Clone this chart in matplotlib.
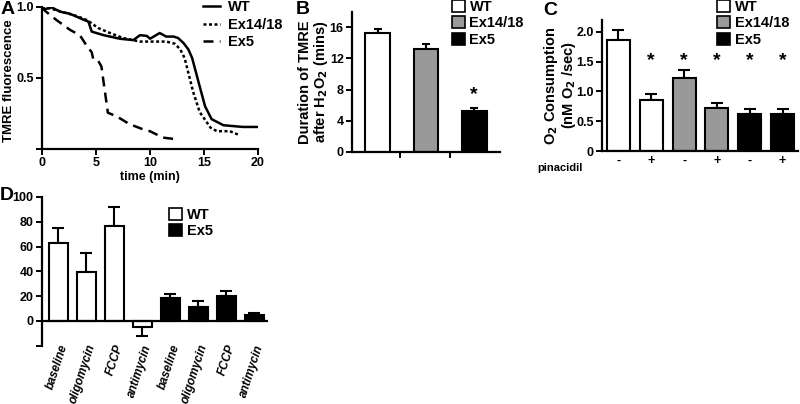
import matplotlib
matplotlib.use("Agg")
import matplotlib.pyplot as plt
from matplotlib.patches import Patch

plt.rcParams["font.family"] = ["Liberation Sans", "DejaVu Sans"]
plt.rcParams["font.weight"] = "bold"
plt.rcParams["axes.labelweight"] = "bold"
plt.rcParams["mathtext.default"] = "bf"

# ---- panel A: TMRE traces ----
wt_t = [0, 0.12, 0.9, 1.67, 2.6, 3.8, 4.3, 4.6, 5.7, 7.2, 8.45, 9.07, 9.7, 10.0,
        10.9, 11.5, 12.2, 12.6, 13.1, 13.55, 13.9, 14.6, 15.1, 15.7, 16.8, 18.6, 19.9]
wt_y = [1.0, 0.98, 0.995, 0.965, 0.95, 0.91, 0.895, 0.825, 0.80, 0.775, 0.765, 0.80,
        0.795, 0.775, 0.815, 0.79, 0.79, 0.78, 0.745, 0.70, 0.64, 0.44, 0.30, 0.21,
        0.167, 0.155, 0.155]
ex14_t = [0, 0.9, 2.0, 3.2, 4.2, 5.2, 6.3, 7.5, 9.07, 10.0, 11.5, 12.3, 12.8, 13.2,
          14.0, 14.6, 15.6, 16.2, 17.4, 18.2]
ex14_y = [1.0, 0.985, 0.96, 0.935, 0.905, 0.85, 0.815, 0.78, 0.755, 0.755, 0.755,
          0.74, 0.70, 0.64, 0.40, 0.26, 0.15, 0.125, 0.125, 0.10]
ex5_t = [0, 0.3, 1.36, 2.6, 3.5, 4.1, 4.6, 4.75, 5.2, 5.5, 6.1, 6.9, 8.1, 9.7, 10.0,
         11.2, 12.3]
ex5_y = [1.0, 0.97, 0.905, 0.837, 0.80, 0.73, 0.68, 0.63, 0.62, 0.58, 0.255, 0.23,
         0.175, 0.128, 0.125, 0.08, 0.07]

# ---- panel B: duration ----
b_groups = ["WT", "Ex14/18", "Ex5"]
b_vals = [15.2, 13.2, 5.2]
b_err = [0.55, 0.6, 0.4]

# ---- panel C: O2 consumption ----
c_vals = [1.86, 0.855, 1.22, 0.726, 0.62, 0.62]
c_err = [0.17, 0.10, 0.14, 0.085, 0.08, 0.08]
c_pinacidil = ["-", "+", "-", "+", "-", "+"]
c_star = [False, True, True, True, True, True]

# ---- panel D ----
d_labels = ["baseline", "oligomycin", "FCCP", "antimycin",
            "baseline", "oligomycin", "FCCP", "antimycin"]
d_vals = [62.5, 39.7, 76.2, -5.1, 18.8, 11.5, 20.4, 5.1]
d_err = [12.5, 15.3, 15.8, 6.9, 2.9, 4.3, 3.8, 1.6]

W, H = 800, 404
fig = plt.figure(figsize=(W / 100, H / 100), dpi=100)


def rect(l, t, r, b):
    return [l / W, 1 - b / H, (r - l) / W, (b - t) / H]


def style(ax):
    for s in ["top", "right"]:
        ax.spines[s].set_visible(False)
    for s in ["left", "bottom"]:
        ax.spines[s].set_linewidth(1.6)
    ax.tick_params(width=1.4, length=4, labelsize=9, pad=2)


def colors(n_wt, n_ex14, n_ex5):
    return ["white"] * n_wt + ["#999999"] * n_ex14 + ["black"] * n_ex5


def box_legend(ax, handles, x, y):
    ax.legend(handles=handles, loc="upper left", bbox_to_anchor=(x / W, 1 - y / H),
              bbox_transform=fig.transFigure, frameon=False, fontsize=10.5,
              handlelength=0.9, handleheight=0.9, handletextpad=0.3,
              labelspacing=0.15, borderpad=0, borderaxespad=0)


# A
axA = fig.add_axes(rect(42, 6.7, 258, 149))
style(axA)
axA.plot(wt_t, wt_y, color="black", lw=1.8, ls="-", label="WT")
axA.plot(ex14_t, ex14_y, color="black", lw=1.8, ls=(0, (1.2, 1.0)), label="Ex14/18")
axA.plot(ex5_t, ex5_y, color="black", lw=1.8, ls=(0, (4, 2.5)), label="Ex5")
axA.set_xlim(0, 20)
axA.set_ylim(0, 1.0)
axA.set_xticks([0, 5, 10, 15, 20])
axA.set_yticks([0, 0.5, 1.0])
axA.set_yticklabels(["", "0.5", "1.0"])
axA.set_xlabel("time (min)", fontsize=9, labelpad=1)
axA.set_ylabel("TMRE fluorescence", fontsize=9.5)
axA.yaxis.set_label_coords(-0.125, 0.48)
axA.legend(loc="upper left", bbox_to_anchor=(203 / W, 1 - 0 / H),
           bbox_transform=fig.transFigure, frameon=False, fontsize=10.5,
           handlelength=1.2, handletextpad=0.5, labelspacing=0.25, borderpad=0,
           borderaxespad=0)

# B
axB = fig.add_axes(rect(352, 11.6, 500, 152))
style(axB)
bx = list(range(len(b_vals)))
axB.bar(bx, b_vals, width=0.52, color=colors(1, 1, 1), edgecolor="black", lw=1.5,
        zorder=2)
axB.errorbar(bx, b_vals, yerr=[[0] * 3, b_err], fmt="none", ecolor="black",
             elinewidth=1.5, capsize=3, capthick=1.5, zorder=1)
axB.text(2, 6.3, "*", ha="center", va="bottom", fontsize=14)
axB.set_xlim(-0.54, 2.54)
axB.set_ylim(0, 18)
axB.set_yticks([0, 4, 8, 12, 16])
axB.set_xticks([0.45, 1.5])
axB.set_xticklabels([])
axB.set_ylabel("Duration of TMRE\nafter H$_2$O$_2$ (mins)", fontsize=10.5,
               linespacing=0.95, labelpad=0)
box_legend(axB, [Patch(facecolor=c, edgecolor="black", lw=1.2, label=g)
                 for c, g in zip(colors(1, 1, 1), b_groups)], 452, 0)

# C
axC = fig.add_axes(rect(602, 20, 798, 151))
style(axC)
cx = list(range(len(c_vals)))
axC.bar(cx, c_vals, width=0.7, color=colors(2, 2, 2), edgecolor="black", lw=1.5,
        zorder=2)
axC.errorbar(cx, c_vals, yerr=[[0] * 6, c_err], fmt="none", ecolor="black",
             elinewidth=1.5, capsize=4, capthick=1.5, zorder=1)
for i, s in enumerate(c_star):
    if s:
        axC.text(i, 1.38, "*", ha="center", va="bottom", fontsize=14)
axC.set_xlim(-0.5, 5.47)
axC.set_ylim(0, 2.2)
axC.set_yticks([0, 0.5, 1.0, 1.5, 2.0])
axC.set_yticklabels(["0", "0.5", "1.0", "1.5", "2.0"])
axC.set_xticks(cx)
axC.set_xticklabels(c_pinacidil, fontsize=9)
axC.tick_params(axis="x", length=0, pad=3)
axC.text(-0.1, -0.09, "pinacidil", transform=axC.transAxes, ha="right",
         va="top", fontsize=8)
axC.set_ylabel("O$_2$ Consumption\n(nM O$_2$ /sec)", fontsize=10.5,
               linespacing=0.95, labelpad=-1)
box_legend(axC, [Patch(facecolor=c, edgecolor="black", lw=1.2, label=g)
                 for c, g in zip(colors(1, 1, 1), b_groups)], 717, 0)

# D
axD = fig.add_axes(rect(42, 196.9, 268, 345.7))
for s in ["top", "right", "bottom"]:
    axD.spines[s].set_visible(False)
axD.spines["left"].set_linewidth(1.6)
axD.tick_params(width=1.4, length=4, labelsize=9, pad=2)
dx = list(range(len(d_vals)))
axD.bar(dx, d_vals, width=0.68, color=colors(4, 0, 4), edgecolor="black", lw=1.5,
        zorder=2)
d_lo = [e if v < 0 else 0 for v, e in zip(d_vals, d_err)]
d_hi = [0 if v < 0 else e for v, e in zip(d_vals, d_err)]
axD.errorbar(dx, d_vals, yerr=[d_lo, d_hi], fmt="none", ecolor="black",
             elinewidth=1.5, capsize=4, capthick=1.5, zorder=1)
axD.axhline(0, color="black", lw=1.6, zorder=3)
axD.set_xlim(-0.58, 7.49)
axD.set_ylim(-20, 100)
axD.set_yticks([-20, 0, 20, 40, 60, 80, 100])
axD.set_yticklabels(["", "0", "20", "40", "60", "80", "100"])
axD.set_xticks(dx)
axD.set_xticklabels(d_labels, rotation=72, ha="right", rotation_mode="anchor",
                    fontsize=8.5, style="italic")
axD.tick_params(axis="x", length=0, pad=-2)
box_legend(axD, [Patch(facecolor="white", edgecolor="black", lw=1.2, label="WT"),
                 Patch(facecolor="black", edgecolor="black", lw=1.2, label="Ex5")],
           169, 208)

# panel letters
for letter, x, y in [("A", 1, 1), ("B", 296, 1), ("C", 543, 2), ("D", 0, 187)]:
    fig.text(x / W, 1 - y / H, letter, fontsize=14, fontweight="bold",
             ha="left", va="top")

fig.savefig("out.png", dpi=100)
